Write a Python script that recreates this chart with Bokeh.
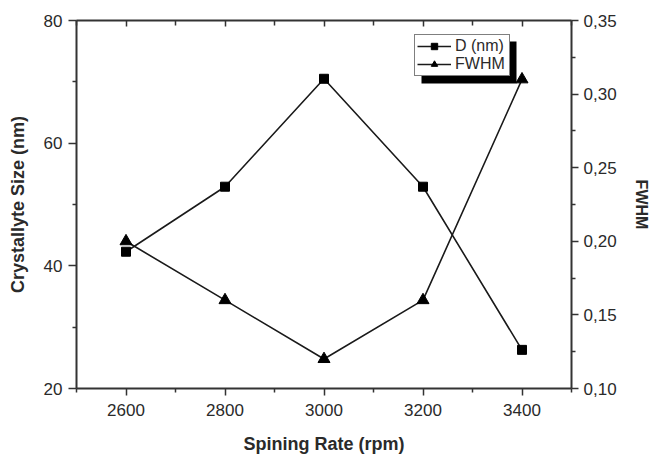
from bokeh.plotting import figure
from bokeh.models import (Range1d, LinearAxis, FixedTicker, Legend, LegendItem,
                          BoxAnnotation)
from bokeh.embed import file_html
from bokeh.resources import INLINE

# ---- data ----
spin_rate = [2600, 2800, 3000, 3200, 3400]
d_nm = [42.3, 52.9, 70.5, 52.9, 26.3]
fwhm = [0.20, 0.16, 0.12, 0.16, 0.31]

x_major = [2600, 2800, 3000, 3200, 3400]
x_minor = [2500, 2700, 2900, 3100, 3300, 3500]
yl_major = [20, 40, 60, 80]
yl_minor = [30, 50, 70]
yr_major = [0.10, 0.15, 0.20, 0.25, 0.30, 0.35]
yr_labels = ["0,10", "0,15", "0,20", "0,25", "0,30", "0,35"]
yr_minor = [0.125, 0.175, 0.225, 0.275, 0.325]

FONT = "Liberation Sans"
TXT = "#2a2a2a"
AX = "#333333"

p = figure(width=652, height=459, output_backend="svg", toolbar_location=None,
           x_range=Range1d(2500, 3500), y_range=Range1d(20, 80),
           min_border_left=76, min_border_right=80, min_border_top=20,
           min_border_bottom=71, x_axis_location=None, y_axis_location=None)
p.extra_y_ranges = {"fwhm": Range1d(0.10, 0.35)}
p.grid.visible = False
p.outline_line_color = None
p.background_fill_color = "white"
p.border_fill_color = "white"


def style(ax):
    ax.axis_line_color = AX
    ax.axis_line_width = 2
    ax.major_tick_line_color = AX
    ax.minor_tick_line_color = AX
    ax.major_tick_line_width = 1.5
    ax.minor_tick_line_width = 1.5
    ax.major_tick_out = 7
    ax.major_tick_in = 0
    ax.minor_tick_out = 4
    ax.minor_tick_in = 0
    ax.major_label_text_font = FONT
    ax.major_label_text_font_size = "17px"
    ax.major_label_text_color = TXT
    ax.axis_label_text_font = FONT
    ax.axis_label_text_font_size = "18px"
    ax.axis_label_text_font_style = "bold"
    ax.axis_label_text_color = TXT


xb = LinearAxis(ticker=FixedTicker(ticks=x_major, minor_ticks=x_minor),
                axis_label="Spining Rate (rpm)")
style(xb)
xb.major_label_standoff = 8
xb.axis_label_standoff = 15
p.add_layout(xb, "below")

xt = LinearAxis(ticker=FixedTicker(ticks=x_major, minor_ticks=x_minor))
style(xt)
xt.major_tick_out = 0
xt.major_tick_in = 6
xt.minor_tick_out = 0
xt.minor_tick_in = 5
xt.major_label_overrides = {v: "" for v in x_major}
xt.major_label_standoff = 0
p.add_layout(xt, "above")

yl = LinearAxis(ticker=FixedTicker(ticks=yl_major, minor_ticks=yl_minor),
                axis_label="Crystallyte Size (nm)")
style(yl)
yl.major_tick_out = 8
yl.major_label_standoff = 6
yl.axis_label_standoff = 13
p.add_layout(yl, "left")

yr = LinearAxis(y_range_name="fwhm",
                ticker=FixedTicker(ticks=yr_major, minor_ticks=yr_minor),
                axis_label="FWHM")
style(yr)
yr.major_label_overrides = {v: s for v, s in zip(yr_major, yr_labels)}
yr.major_label_standoff = 5
yr.axis_label_text_font_size = "16px"
yr.axis_label_standoff = 13
p.add_layout(yr, "right")

l1 = p.line(spin_rate, d_nm, line_color="#1a1a1a", line_width=1.6)
m1 = p.scatter(spin_rate, d_nm, marker="square", size=9,
               fill_color="black", line_color="black")
l2 = p.line(spin_rate, fwhm, y_range_name="fwhm", line_color="#1a1a1a", line_width=1.6)
m2 = p.scatter(spin_rate, fwhm, y_range_name="fwhm", marker="triangle", size=12,
               fill_color="black", line_color="black")

# legend drop shadow (screen px from the frame's bottom-left)
shadow = BoxAnnotation(left=345, right=440, bottom=305, top=347,
                       left_units="screen", right_units="screen",
                       bottom_units="screen", top_units="screen",
                       fill_color="black", fill_alpha=1, line_color=None, level="overlay")
p.add_layout(shadow)

legend = Legend(items=[LegendItem(label="D (nm)", renderers=[l1, m1]),
                       LegendItem(label="FWHM", renderers=[l2, m2])],
                location=(338, 312), orientation="vertical")
legend.label_text_font = FONT
legend.label_text_font_size = "16px"
legend.label_text_color = TXT
legend.label_standoff = 4
legend.label_height = 16
legend.label_width = 52
legend.glyph_height = 16
legend.glyph_width = 34
legend.spacing = 0
legend.padding = 2
legend.margin = 0
legend.border_line_color = "black"
legend.border_line_width = 1.5
legend.background_fill_color = "white"
legend.background_fill_alpha = 1
p.add_layout(legend, "center")

open("out.html", "w").write(file_html(p, INLINE))
